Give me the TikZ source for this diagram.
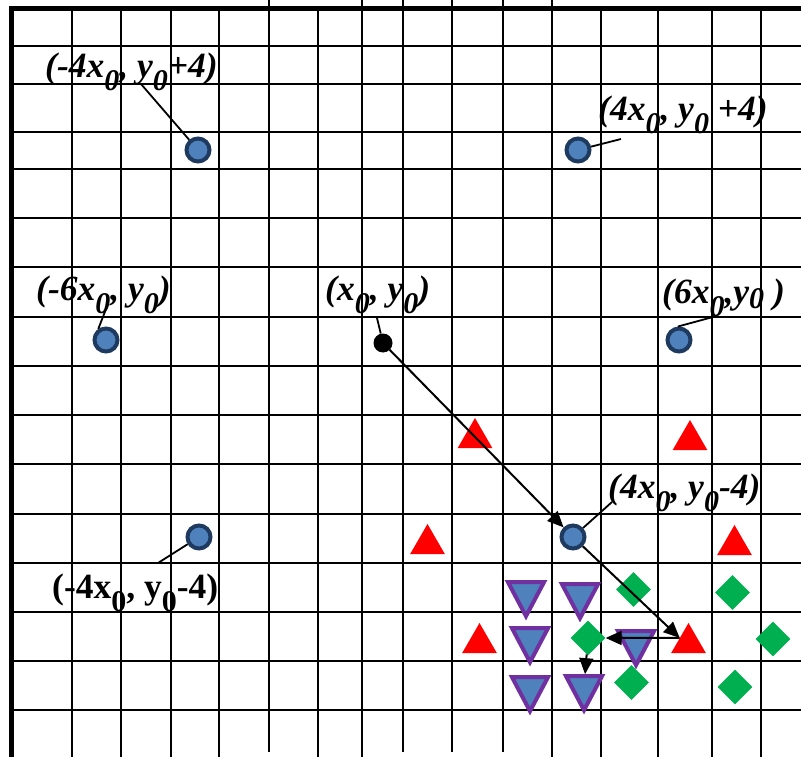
\documentclass[tikz,border=0pt]{standalone}
\usepackage{fontspec}
\setmainfont{Liberation Serif}
\usetikzlibrary{shapes.geometric,arrows.meta}
\definecolor{ptblue}{HTML}{4F81BD}
\definecolor{ptnavy}{HTML}{1F3A5F}
\definecolor{ptpurple}{HTML}{7030A0}
\definecolor{ptgreen}{HTML}{00B050}
\newcommand\sbz[1][13pt]{\raisebox{-#1}{\fontsize{30}{30}\selectfont 0}}
\begin{document}
\begin{tikzpicture}[x=1pt,y=-1pt,
  gridline/.style={line width=2pt, black},
  gridframe/.style={line width=5pt, black, line join=miter},
  lbl/.style={inner sep=0pt, anchor=base west, font=\fontsize{35.5}{36}\selectfont\bfseries\itshape},
  lblup/.style={inner sep=0pt, anchor=base west, font=\fontsize{35.5}{36}\selectfont\bfseries},
  lead/.style={line width=1.8pt},
  bdot/.style={circle, draw=ptnavy, fill=ptblue, line width=4pt, minimum size=23pt, inner sep=0pt},
  kdot/.style={circle, fill=black, minimum size=19pt, inner sep=0pt},
  rtri/.style={regular polygon, regular polygon sides=3, fill=red, minimum size=40pt, inner sep=0pt},
  ptri/.style={isosceles triangle, isosceles triangle stretches, shape border rotate=-90, draw=ptpurple, fill=ptblue, line width=4pt, minimum width=36pt, minimum height=34pt, inner sep=0pt},
  gdia/.style={diamond, fill=ptgreen, minimum size=35pt, inner sep=0pt},
  arr/.style={line width=2pt, -{Triangle[length=16pt,width=14pt]}}]
\useasboundingbox (0,0) rectangle (801,757);
% grid
\foreach \x in {72,121,171,219,318,601,658,712,761} \draw[gridline] (\x,8.5) -- (\x,757);
\foreach \x in {362,552} \draw[gridline] (\x,0) -- (\x,757);
\foreach \x in {269,403,452,503} \draw[gridline] (\x,0) -- (\x,752);
\foreach \y in {46,84,132,169,218,267,317,366,415,464,514,563,612,661,710} \draw[gridline] (11.5,\y) -- (801,\y);
\draw[gridframe] (801,8.5) -- (11.5,8.5) -- (11.5,757);
% points
\node[bdot] (c1) at (198,150) {};
\node[bdot] (c2) at (578,150) {};
\node[bdot] (c3) at (106,340) {};
\node[kdot] (c4) at (383,343) {};
\node[bdot] (c5) at (679,340) {};
\node[bdot] (c6) at (573,537) {};
\node[bdot] (c7) at (199,537) {};
% red triangles
\node[rtri] (r1) at (475,438) {};
\node[rtri] (r2) at (690,440) {};
\node[rtri] (r3) at (427.5,544) {};
\node[rtri] (r4) at (734.5,545) {};
\node[rtri] (r5) at (479.5,643) {};
\node[rtri] (r6) at (688.5,643) {};
% purple triangles
\node[ptri] (p1) at (526,593) {};
\node[ptri] (p2) at (580,595) {};
\node[ptri] (p3) at (530,639) {};
\node[ptri] (p4) at (636,642) {};
\node[ptri] (p5) at (530,688) {};
\node[ptri] (p6) at (584,687) {};
% green diamonds
\node[gdia] (g1) at (633.5,589.5) {};
\node[gdia] (g2) at (732.5,592.5) {};
\node[gdia] (g3) at (588,638) {};
\node[gdia] (g4) at (773,639) {};
\node[gdia] (g5) at (631.5,682.5) {};
\node[gdia] (g6) at (735,687) {};
% labels
\node[lbl] (t1) at (45,78) {(-4x\sbz, y\sbz+4)};
\node[lbl] (t2) at (598,121) {(4x\sbz, y\sbz\ +4)};
\node[lbl] (t3) at (36,300) {(-6x\sbz, y\sbz)};
\node[lbl] (t4) at (325,300) {(x\sbz, y\sbz)};
\node[lbl] (t5) at (662,303) {(6x\sbz,y\sbz[5pt] )};
\node[lbl] (t6) at (608,498) {(4x\sbz, y\sbz-4)};
\node[lblup] (t7) at (52,598) {(-4x\sbz, y\sbz-4)};
% leader lines
\coordinate (e1) at (141,84);
\coordinate (e2) at (621,139);
\coordinate (e3) at (108,304);
\coordinate (e4) at (377,318);
\coordinate (e5) at (713,317);
\coordinate (e6) at (612,502);
\coordinate (e7) at (158,563);
\draw[lead] (e1) -- (c1);
\draw[lead] (e2) -- (c2);
\draw[lead] (e3) -- (c3.125);
\draw[lead] (e4) -- (c4);
\draw[lead] (e5) -- (c5.95);
\draw[lead] (e6) -- (c6);
\draw[lead] (e7) -- (c7);
% arrows
\draw[arr] (c4) -- (c6);
\draw[arr] (c6) -- (r6.side 1);
\draw[arr] (r6.side 1) -- (g3);
\draw[arr] (g3) -- (p6);
\end{tikzpicture}
\end{document}
